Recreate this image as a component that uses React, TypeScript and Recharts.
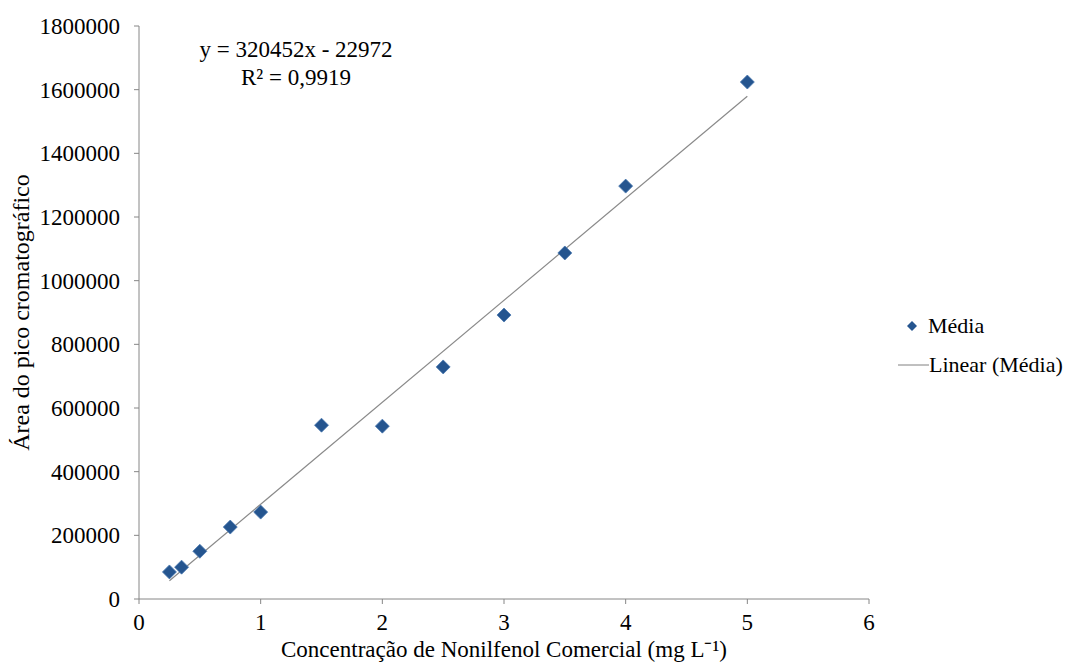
import React from "react";
import { ComposedChart, Scatter, Line, XAxis, YAxis } from "recharts";

const concentrations = [0.25, 0.35, 0.5, 0.75, 1, 1.5, 2, 2.5, 3, 3.5, 4, 5];
const areas = [85000, 100000, 150000, 226000, 273000, 546000, 543000, 729000, 892000, 1087000, 1297000, 1624000];
const trendX = [0.25, 5];
const slope = 320452;
const intercept = -22972;
const xTicks = [0, 1, 2, 3, 4, 5, 6];
const yTicks = [0, 200000, 400000, 600000, 800000, 1000000, 1200000, 1400000, 1600000, 1800000];

const points = concentrations.map((x, i) => ({ x, y: areas[i] }));
const trend = trendX.map((x) => ({ x, t: slope * x + intercept }));

const FONT = "'Liberation Serif', 'Times New Roman', serif";
const FS = 23;
const BLUE = "#25558f";

const Diamond = (props: any) => {
  const { cx, cy } = props;
  const r = 7;
  return (
    <polygon
      points={`${cx},${cy - r} ${cx + r},${cy} ${cx},${cy + r} ${cx - r},${cy}`}
      fill={BLUE}
      stroke="#4a78b0"
      strokeWidth={0.8}
    />
  );
};

export default function App() {
  return (
    <div style={{ position: "relative", width: 1064, height: 662, fontFamily: FONT }}>
      <ComposedChart
        width={1064}
        height={662}
        margin={{ top: 18, right: 203, bottom: 11, left: 0 }}
      >
        <XAxis
          type="number"
          dataKey="x"
          domain={[0, 6]}
          ticks={xTicks}
          allowDataOverflow
          stroke="#868686"
          tickSize={5}
          tickMargin={10}
          height={60}
          tick={{ fill: "#000", fontSize: FS, fontFamily: FONT }}
          label={{
            value: "Concentração  de Nonilfenol Comercial (mg L⁻¹)",
            position: "insideBottom",
            offset: 2,
            style: { fill: "#000", fontSize: FS, fontFamily: FONT, whiteSpace: "pre" },
          }}
        />
        <YAxis
          type="number"
          domain={[0, 1800000]}
          ticks={yTicks}
          stroke="#868686"
          tickSize={5}
          tickMargin={14}
          width={131}
          tick={{ fill: "#000", fontSize: FS, fontFamily: FONT }}
          label={{
            value: "Área do pico cromatográfico",
            angle: -90,
            position: "insideLeft",
            offset: 12,
            style: { textAnchor: "middle", fill: "#000", fontSize: 24, fontFamily: FONT },
          }}
        />
        <Line
          data={trend}
          dataKey="t"
          stroke="#8a8a8a"
          strokeWidth={1.2}
          dot={false}
          activeDot={false}
          isAnimationActive={false}
          legendType="none"
        />
        <Scatter
          data={points}
          dataKey="y"
          shape={<Diamond />}
          isAnimationActive={false}
          legendType="none"
        />
      </ComposedChart>
      <div
        style={{
          position: "absolute",
          left: 880,
          top: 305,
          fontSize: 22,
          lineHeight: "26px",
          color: "#000",
          whiteSpace: "nowrap",
        }}
      >
        <div style={{ display: "flex", alignItems: "center", height: 26 }}>
          <svg width={40} height={20}>
            <polygon points="24,5 29,10 24,15 19,10" fill={BLUE} />
          </svg>
          <span>Média</span>
        </div>
        <div style={{ display: "flex", alignItems: "center", height: 26, marginTop: 13 }}>
          <svg width={41} height={20}>
            <line x1={10} y1={10} x2={41} y2={10} stroke="#808080" strokeWidth={1} />
          </svg>
          <span>Linear (Média)</span>
        </div>
      </div>
      <div
        style={{
          position: "absolute",
          left: 168,
          top: 28,
          width: 240,
          textAlign: "center",
          fontSize: FS,
          lineHeight: "28px",
          color: "#000",
        }}
      >
        <div>y = 320452x - 22972</div>
        <div>R² = 0,9919</div>
      </div>
    </div>
  );
}
